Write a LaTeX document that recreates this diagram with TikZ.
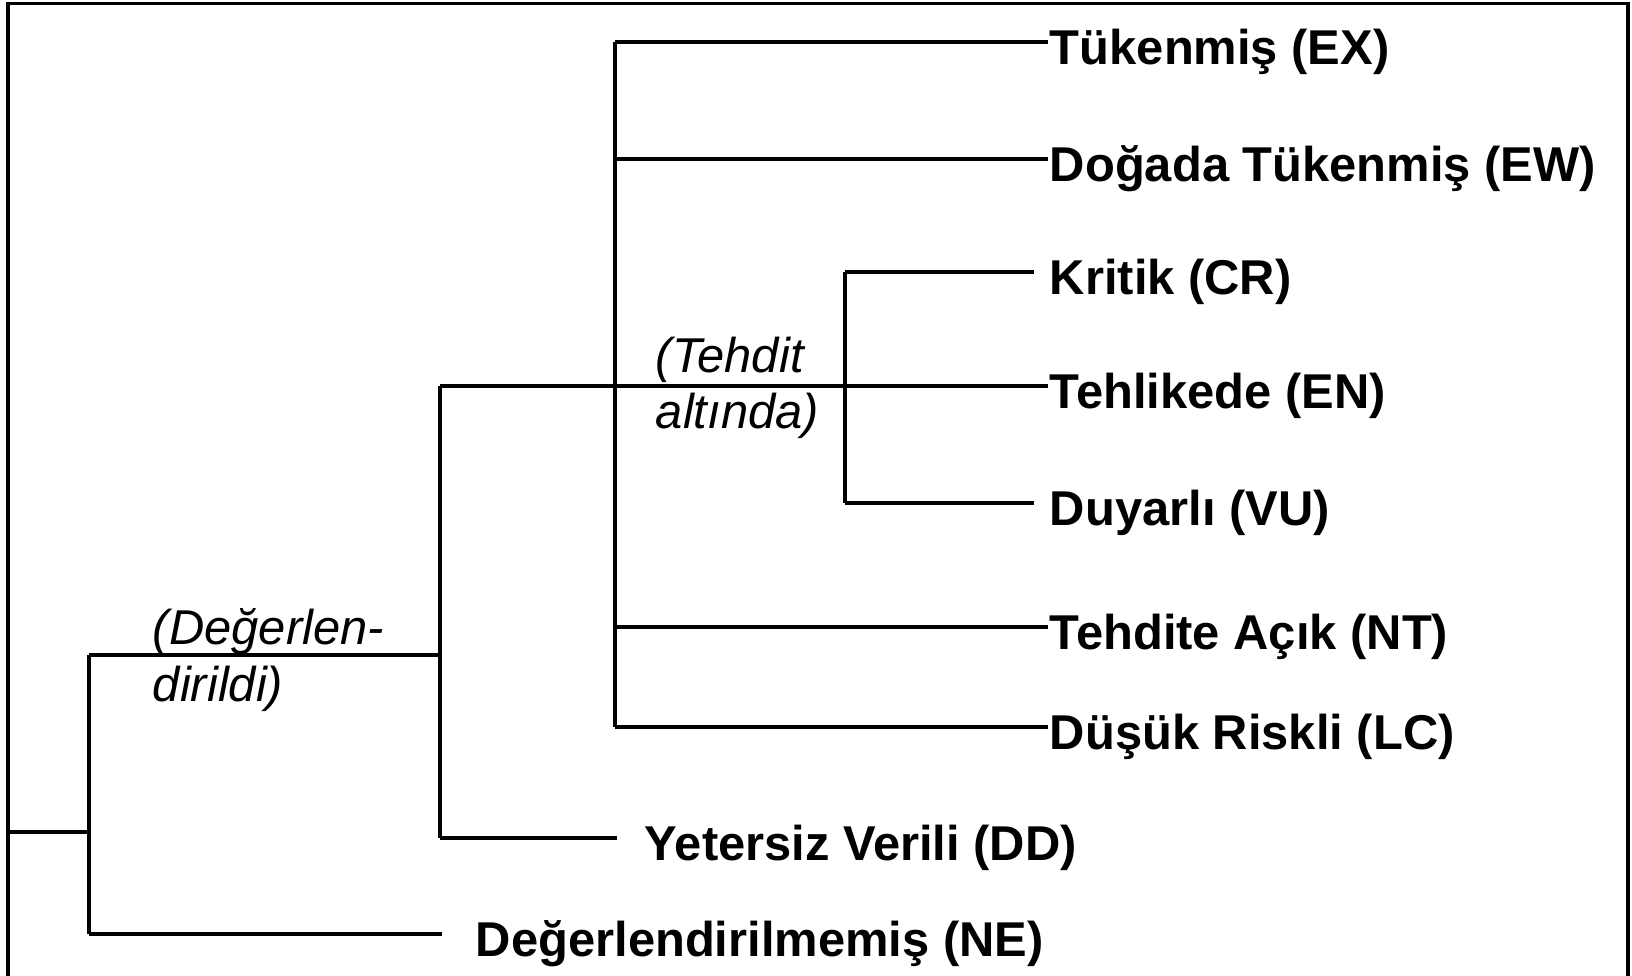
\documentclass[tikz,border=0pt]{standalone}
\usepackage{fontspec}
\setmainfont{Liberation Sans}
\begin{document}
\begin{tikzpicture}[x=0.01cm,y=-0.01cm,line width=1.1pt,
  leaf/.style={anchor=west,inner sep=0pt,font=\fontsize{13.9}{16}\selectfont\bfseries,text height=4.5mm,text depth=0pt},
  group/.style={anchor=west,inner sep=0pt,align=left,font=\fontsize{13.9}{16}\selectfont\itshape}]
  \useasboundingbox (0,0) rectangle (1632,976);
  \draw (8,976)--(8,3.5)--(1628,3.5)--(1628,976);
  \coordinate (root) at (8,832);
  \coordinate (all) at (89,832);
  \coordinate (ev) at (440,655);
  \coordinate (th) at (615,386);
  \coordinate (tt) at (845,386);
  \node[leaf] (ex) at (1048,41.7) {Tükenmiş (EX)};
  \node[leaf] (ew) at (1048,159) {Doğada Tükenmiş (EW)};
  \node[leaf] (cr) at (1048,272) {Kritik (CR)};
  \node[leaf] (en) at (1048,386) {Tehlikede (EN)};
  \node[leaf] (vu) at (1048,503) {Duyarlı (VU)};
  \node[leaf] (nt) at (1048,627) {Tehdite Açık (NT)};
  \node[leaf] (lc) at (1048,727) {Düşük Riskli (LC)};
  \node[leaf] (dd) at (643,838) {Yetersiz Verili (DD)};
  \node[leaf] (ne) at (474,934) {Değerlendirilmemiş (NE)};
  \node[group] (tlabel) at (654,388) {(Tehdit\\altında)};
  \node[group] (elabel) at (151,660) {(Değerlen-\\dirildi)};
  \draw (root) -- (all);
  \draw (all |- ev) -- (all |- ne.west);
  \draw (all |- ev) -- (ev);
  \draw[shorten >=0.32cm] (all |- ne.west) -- (ne.west);
  \draw (ev |- en.west) -- (ev |- dd.west);
  \draw (ev |- en.west) -- (en.west);
  \draw[shorten >=0.26cm] (ev |- dd.west) -- (dd.west);
  \draw (th |- ex.west) -- (th |- lc.west);
  \draw (th |- ex.west) -- (ex.west);
  \draw (th |- ew.west) -- (ew.west);
  \draw (th |- nt.west) -- (nt.west);
  \draw (th |- lc.west) -- (lc.west);
  \draw (tt |- cr.west) -- (tt |- vu.west);
  \draw[shorten >=0.14cm] (tt |- cr.west) -- (cr.west);
  \draw[shorten >=0.14cm] (tt |- vu.west) -- (vu.west);
\end{tikzpicture}
\end{document}
